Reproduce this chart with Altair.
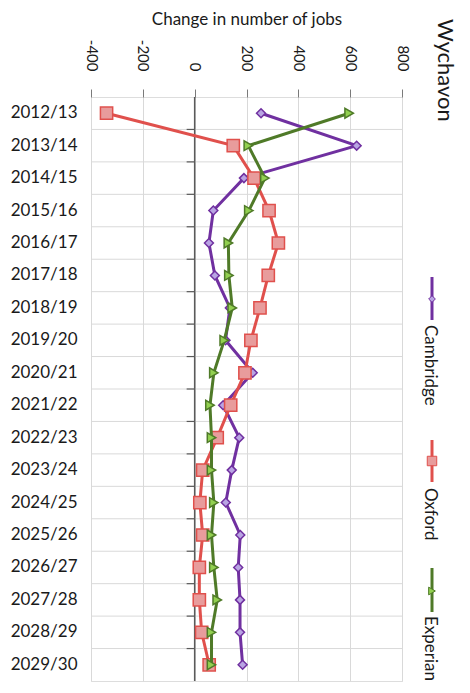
import altair as alt
import pandas as pd

# ---------------- data ----------------
years = ["2012/13", "2013/14", "2014/15", "2015/16", "2016/17", "2017/18",
         "2018/19", "2019/20", "2020/21", "2021/22", "2022/23", "2023/24",
         "2024/25", "2025/26", "2026/27", "2027/28", "2028/29", "2029/30"]
series_names = ["Cambridge", "Oxford", "Experian"]
cambridge = [256, 625, 190, 72, 55, 78, 136, 119, 224, 110, 172, 143, 120, 176, 168, 175, 175, 185]
oxford = [-340, 149, 229, 287, 323, 284, 252, 217, 194, 139, 87, 31, 20, 31, 18, 18, 27, 56]
experian = [596, 207, 271, 209, 130, 132, 145, 114, 74, 59, 65, 65, 74, 65, 74, 87, 65, 65]
x_ticks = [-400, -200, 0, 200, 400, 600, 800]
x_title = "Change in number of jobs"
chart_title = "Wychavon"

series_values = [cambridge, oxford, experian]

# ---------------- style ----------------
line_colors = ["#7030A0", "#E0504C", "#4F7A28"]
fill_colors = ["#B9A4E3", "#E89C9C", "#92D050"]
shapes = ["diamond", "square", "triangle-right"]
sizes = [80, 150, 95]
legend_sizes = [45, 90, 60]

W, H = 311, 584
FONT = "Lato"
GRID = "#D9D9D9"
TXT = "#1A1A1A"

y_scale = alt.Scale(type="band", domain=years, paddingInner=0, paddingOuter=0)
y_axis = alt.Axis(title=None, grid=False, ticks=False, tickSize=0, domain=False,
                  labelFontSize=17, labelPadding=14, labelColor=TXT,
                  labelFont=FONT)
x_scale = alt.Scale(domain=[x_ticks[0], x_ticks[-1]], nice=False, zero=False)
x_axis = alt.Axis(orient="top", values=x_ticks, title=x_title,
                  labelExpr="datum.value + ''",
                  labelAngle=90, labelAlign="right", labelBaseline="middle",
                  labelFontSize=15, labelPadding=18, labelColor=TXT,
                  labelFont=FONT, tickSize=8, tickColor="#7A7A7A",
                  domain=False, grid=True, gridColor=GRID,
                  titleFontSize=17, titleFontWeight="normal", titleFont=FONT,
                  titleColor=TXT, titlePadding=11)


def Y(**kw):
    return alt.Y("year:N", scale=y_scale, axis=y_axis, **kw)


def X(field):
    return alt.X(field, scale=x_scale, axis=x_axis)


layers = []

# horizontal grid lines at category boundaries
hgrid = alt.Chart(pd.DataFrame({"year": years[1:]})).mark_rule(
    color=GRID, strokeWidth=1).encode(y=Y(bandPosition=0))
layers.append(hgrid)

# zero line
zero = alt.Chart(pd.DataFrame({"v": [0]})).mark_rule(
    color="#5A5A5A", strokeWidth=1.5).encode(x=X("v:Q"))
layers.append(zero)

# small ticks on the zero line at category boundaries
zticks = alt.Chart(pd.DataFrame({"year": years[1:]})).mark_rule(
    color="#5A5A5A", strokeWidth=1.2).encode(
    y=Y(bandPosition=0), x=alt.datum(-31), x2=alt.datum(0))
layers.append(zticks)

# series
for name, vals, lc, fc, sh, sz in zip(series_names, series_values, line_colors,
                                      fill_colors, shapes, sizes):
    df = pd.DataFrame({"year": years, "value": vals, "idx": range(len(years))})
    base = alt.Chart(df)
    ln = base.mark_line(color=lc, strokeWidth=3).encode(
        x=X("value:Q"), y=Y(), order=alt.Order("idx:Q"))
    pt = base.mark_point(shape=sh, filled=True, fill=fc, stroke=lc,
                         strokeWidth=1.5, size=sz, opacity=1).encode(
        x=X("value:Q"), y=Y())
    layers += [ln, pt]

# manual rotated legend
legend_x = 341
legend_pos = [(180, 223, 202, 228), (343, 385, 364, 391), (471, 515, 494, 519)]
for name, lc, fc, sh, lsz, (y0, y1, ym, ty) in zip(series_names, line_colors,
                                                   fill_colors, shapes,
                                                   legend_sizes, legend_pos):
    ldf = pd.DataFrame({"s": [name]})
    lb = alt.Chart(ldf)
    layers.append(lb.mark_rule(color=lc, strokeWidth=3).encode(
        x=alt.value(legend_x), y=alt.value(y0), y2=alt.value(y1)))
    layers.append(lb.mark_point(shape=sh, filled=True, fill=fc, stroke=lc,
                                strokeWidth=1, size=lsz, opacity=1).encode(
        x=alt.value(legend_x), y=alt.value(ym)))
    layers.append(lb.mark_text(angle=90, align="left", baseline="middle",
                               fontSize=17, font=FONT, color=TXT).encode(
        text="s:N", x=alt.value(legend_x - 2), y=alt.value(ty)))

# rotated chart title
tdf = pd.DataFrame({"t": [chart_title]})
layers.append(alt.Chart(tdf).mark_text(angle=90, align="left", baseline="middle",
                                       fontSize=22, font=FONT,
                                       color=TXT).encode(
    text="t:N", x=alt.value(354), y=alt.value(-78)))

chart = alt.layer(*layers).properties(
    width=W, height=H,
    autosize=alt.AutoSizeParams(type="none"),
    padding={"left": 83, "top": 89, "right": 60, "bottom": 4},
    background="white",
).configure_view(stroke="#8C8C8C", strokeWidth=1).configure(font=FONT)

chart.save("out.html", embed_options={"renderer": "svg", "actions": False})
